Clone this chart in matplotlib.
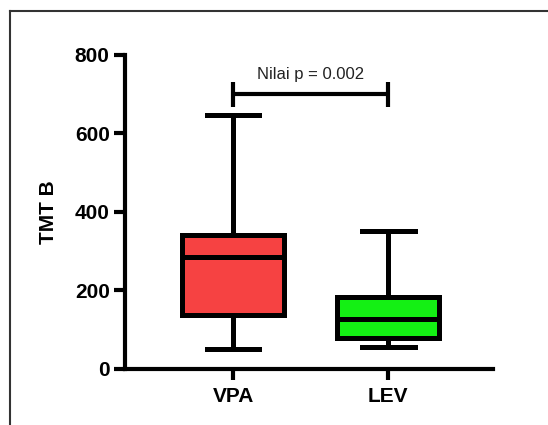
import matplotlib.pyplot as plt
from matplotlib.lines import Line2D

# Summary values (TMT B)
groups = ['VPA', 'LEV']
whis_lo = [51, 56]
q1 = [138, 79]
medians = [284, 128]
q3 = [340, 182]
whis_hi = [647, 350]
colors = ['#F64242', '#14F014']
p_text = 'Nilai p = 0.002'
bar_y = 700


def main():
    plt.rcParams['font.family'] = ['Liberation Sans', 'DejaVu Sans']
    fig = plt.figure(figsize=(5.48, 4.25), dpi=100)
    ax = fig.add_axes([0.228, 0.132, 0.672, 0.739])

    stats = []
    for i in range(len(groups)):
        stats.append(dict(label=groups[i], whislo=whis_lo[i], q1=q1[i], med=medians[i],
                          q3=q3[i], whishi=whis_hi[i], fliers=[]))
    lw = 3.6
    pos = [1, 2]
    bp = ax.bxp(stats, positions=pos, widths=0.66, patch_artist=True, showfliers=False,
                boxprops=dict(linewidth=lw, edgecolor='black'),
                whiskerprops=dict(linewidth=lw, color='black'),
                capprops=dict(linewidth=lw, color='black'),
                medianprops=dict(linewidth=lw, color='black', solid_capstyle='butt'),
                capwidths=0.34)
    for box, c in zip(bp['boxes'], colors):
        box.set_facecolor(c)
        box.set_joinstyle('miter')

    # significance bar
    ax.plot(pos, [bar_y, bar_y], color='black', lw=3, solid_capstyle='butt', clip_on=False)
    for x in pos:
        ax.plot([x, x], [bar_y - 32, bar_y + 32], color='black', lw=3,
                solid_capstyle='butt', clip_on=False)
    ax.text(sum(pos) / 2, bar_y + 50, p_text, ha='center', va='center', fontsize=12,
            color='#222222')

    ax.set_xlim(0.303, 2.677)
    ax.set_ylim(0, 800)
    ax.set_yticks([0, 200, 400, 600, 800])
    ax.set_xticks(pos)
    ax.set_xticklabels(groups)
    ax.set_ylabel('TMT B', fontsize=15, fontweight='bold', labelpad=12)
    for lab in ax.get_xticklabels() + ax.get_yticklabels():
        lab.set_fontweight('bold')
        lab.set_fontsize(15)
    ax.tick_params(axis='both', width=3, length=8, pad=3)
    ax.tick_params(axis='x', pad=5)
    ax.spines['top'].set_visible(False)
    ax.spines['right'].set_visible(False)
    ax.spines['left'].set_linewidth(3)
    ax.spines['bottom'].set_linewidth(3)

    # outer frame (open on right and bottom, as in the original screenshot)
    fig.add_artist(Line2D([9.5 / 548, 9.5 / 548], [0, 1 - 11 / 425], color='#333333', lw=1.5))
    fig.add_artist(Line2D([9.5 / 548, 1], [1 - 11 / 425, 1 - 11 / 425], color='#333333', lw=1.5))

    fig.savefig('out.png', dpi=100)


if __name__ == "__main__":
    main()
